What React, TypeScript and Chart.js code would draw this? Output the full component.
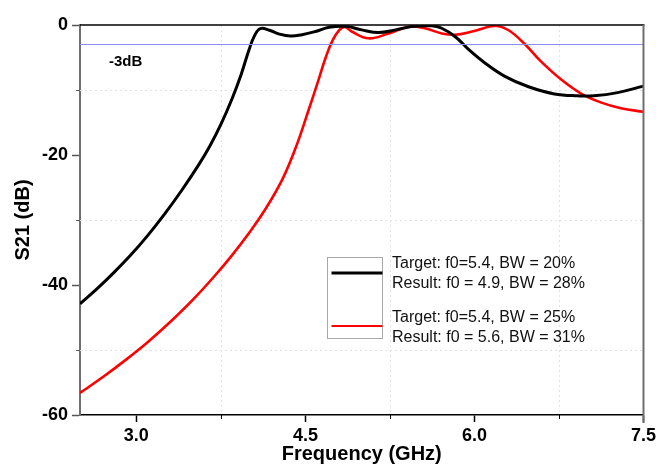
import React, { useEffect, useRef } from "react";
import { Chart, registerables } from "chart.js";

Chart.register(...registerables);

// ---- data ----
const blackFreq = [2.5, 2.65, 2.8, 2.95, 3.1, 3.25, 3.4, 3.55, 3.65, 3.75, 3.85, 3.93, 4.0, 4.05, 4.1, 4.18, 4.27, 4.37, 4.47, 4.59, 4.71, 4.86, 5.0, 5.15, 5.3, 5.44, 5.62, 5.71, 5.83, 5.95, 6.09, 6.27, 6.48, 6.71, 6.92, 7.06, 7.27, 7.5];
const blackS21 = [-42.9, -40.6, -38.1, -35.4, -32.4, -29.1, -25.5, -21.6, -18.7, -15.3, -11.3, -7.6, -3.8, -1.6, -0.55, -0.8, -1.4, -1.7, -1.5, -1.0, -0.35, -0.2, -0.75, -1.15, -0.75, -0.25, -0.12, -0.5, -1.8, -3.8, -5.8, -7.9, -9.5, -10.6, -10.9, -10.9, -10.4, -9.4];
const redFreq = [2.5, 2.7, 2.9, 3.1, 3.3, 3.5, 3.7, 3.85, 4.0, 4.15, 4.3, 4.42, 4.53, 4.61, 4.68, 4.74, 4.8, 4.85, 4.91, 5.06, 5.24, 5.42, 5.56, 5.71, 5.83, 5.98, 6.18, 6.3, 6.45, 6.59, 6.77, 6.95, 7.12, 7.3, 7.5];
const redS21 = [-56.6, -54.2, -51.6, -48.8, -45.7, -42.3, -38.5, -35.4, -32.0, -28.2, -23.6, -18.6, -13.0, -8.8, -5.0, -2.4, -0.8, -0.3, -1.0, -2.05, -1.3, -0.26, -0.5, -1.3, -1.5, -1.0, -0.15, -0.77, -3.0, -5.6, -8.4, -10.6, -11.9, -12.8, -13.35];
const refLevel = -3;
const refLabel = "-3dB";

const xMin = 2.5;
const xMax = 7.5;
const yMin = -60;
const yMax = 0;
const xTicks = [3.0, 4.5, 6.0, 7.5];
const xMinorTicks = [3.75, 5.25, 6.75];
const yTicks = [-60, -40, -20, 0];
const yMinorTicks = [-50, -30, -10];

const xTitle = "Frequency (GHz)";
const yTitle = "S21 (dB)";
const legendBlack = ["Target: f0=5.4, BW = 20%", "Result: f0 = 4.9, BW = 28%"];
const legendRed = ["Target: f0=5.4, BW = 25%", "Result: f0 = 5.6, BW = 31%"];

const FONT = "'Liberation Sans', Arial, sans-serif";

const framePlugin = {
  id: "frame",
  beforeDatasetsDraw(chart: any) {
    const { ctx, chartArea: a, scales } = chart;
    const xs = scales.x;
    const ys = scales.y;
    ctx.save();
    ctx.strokeStyle = "#e2e2e2";
    ctx.lineWidth = 1;
    ctx.setLineDash([2, 3]);
    xMinorTicks.forEach((v) => {
      const px = Math.round(xs.getPixelForValue(v)) + 0.5;
      ctx.beginPath();
      ctx.moveTo(px, a.top);
      ctx.lineTo(px, a.bottom);
      ctx.stroke();
    });
    yMinorTicks.forEach((v) => {
      const py = Math.round(ys.getPixelForValue(v)) + 0.5;
      ctx.beginPath();
      ctx.moveTo(a.left, py);
      ctx.lineTo(a.right, py);
      ctx.stroke();
    });
    ctx.restore();
  },
  afterDatasetsDraw(chart: any) {
    const { ctx, chartArea: a, scales } = chart;
    const xs = scales.x;
    const ys = scales.y;
    ctx.save();
    // top frame
    ctx.strokeStyle = "#000";
    ctx.lineWidth = 1.5;
    ctx.beginPath();
    ctx.moveTo(a.left, a.top);
    ctx.lineTo(a.right + 1, a.top);
    ctx.stroke();
    // right frame
    ctx.strokeStyle = "#6e6e6e";
    ctx.lineWidth = 2;
    ctx.beginPath();
    ctx.moveTo(a.right, a.top);
    ctx.lineTo(a.right, a.bottom + 8);
    ctx.stroke();
    // minor ticks
    ctx.strokeStyle = "#000";
    ctx.lineWidth = 1;
    xMinorTicks.forEach((v) => {
      const px = Math.round(xs.getPixelForValue(v)) + 0.5;
      ctx.beginPath();
      ctx.moveTo(px, a.bottom);
      ctx.lineTo(px, a.bottom + 4);
      ctx.stroke();
    });
    ctx.strokeStyle = "#555";
    yMinorTicks.forEach((v) => {
      const py = Math.round(ys.getPixelForValue(v)) + 0.5;
      ctx.beginPath();
      ctx.moveTo(a.left - 4, py);
      ctx.lineTo(a.left, py);
      ctx.stroke();
    });
    // -3dB label
    ctx.fillStyle = "#000";
    ctx.font = `bold 15px ${FONT}`;
    ctx.textAlign = "left";
    ctx.textBaseline = "middle";
    ctx.fillText(refLabel, a.left + 29, a.top + 37);
    // legend
    const bx = 327.5, by = 257.5, bw = 55, bh = 81;
    ctx.strokeStyle = "#a8a8a8";
    ctx.lineWidth = 1;
    ctx.strokeRect(bx, by, bw, bh);
    ctx.strokeStyle = "#000";
    ctx.lineWidth = 3;
    ctx.beginPath();
    ctx.moveTo(bx + 4, 273);
    ctx.lineTo(bx + bw, 273);
    ctx.stroke();
    ctx.strokeStyle = "#ff0000";
    ctx.lineWidth = 2;
    ctx.beginPath();
    ctx.moveTo(bx + 4, 326);
    ctx.lineTo(bx + bw, 326);
    ctx.stroke();
    ctx.fillStyle = "#111";
    ctx.font = `16px ${FONT}`;
    ctx.fillText(legendBlack[0], 392, 264);
    ctx.fillText(legendBlack[1], 392, 284);
    ctx.fillText(legendRed[0], 392, 318);
    ctx.fillText(legendRed[1], 392, 338);
    ctx.restore();
  },
};

export default function App() {
  const ref = useRef<HTMLCanvasElement | null>(null);

  useEffect(() => {
    document.body.style.margin = "0";
    const canvas = ref.current;
    if (!canvas) return;
    const chart = new Chart(canvas, {
      type: "line",
      data: {
        datasets: [
          {
            label: refLabel,
            data: [
              { x: xMin, y: refLevel },
              { x: xMax, y: refLevel },
            ],
            borderColor: "#8a8ef0",
            borderWidth: 1,
            pointRadius: 0,
            tension: 0,
          },
          {
            label: "black",
            data: blackFreq.map((f, i) => ({ x: f, y: blackS21[i] })),
            borderColor: "#000000",
            borderWidth: 3,
            pointRadius: 0,
            tension: 0.4,
          },
          {
            label: "red",
            data: redFreq.map((f, i) => ({ x: f, y: redS21[i] })),
            borderColor: "#ff0000",
            borderWidth: 2.6,
            pointRadius: 0,
            tension: 0.4,
          },
        ],
      },
      options: {
        responsive: false,
        animation: false,
        events: [],
        layout: { padding: { top: 25, right: 13, left: 0, bottom: 0 } },
        plugins: { legend: { display: false }, tooltip: { enabled: false } },
        scales: {
          x: {
            type: "linear",
            min: xMin,
            max: xMax,
            afterBuildTicks: (s: any) => {
              s.ticks = xTicks.map((v) => ({ value: v }));
            },
            afterFit: (s: any) => {
              s.height = 59;
            },
            grid: {
              drawOnChartArea: false,
              drawTicks: true,
              tickLength: 7,
              tickColor: "#000",
              tickWidth: 1.5,
            },
            border: { display: true, color: "#000", width: 1.5 },
            ticks: {
              color: "#000",
              padding: 3,
              maxRotation: 0,
              autoSkip: false,
              font: { family: FONT, size: 18, weight: "bold" },
              callback: (v: any) => Number(v).toFixed(1),
            },
            title: {
              display: true,
              text: xTitle,
              color: "#000",
              padding: { top: 0, bottom: 8 },
              font: { family: FONT, size: 20, weight: "bold" },
            },
          },
          y: {
            type: "linear",
            min: yMin,
            max: yMax,
            afterBuildTicks: (s: any) => {
              s.ticks = yTicks.map((v) => ({ value: v }));
            },
            afterFit: (s: any) => {
              s.width = 80;
            },
            grid: {
              drawOnChartArea: false,
              drawTicks: true,
              tickLength: 8,
              tickColor: "#555",
              tickWidth: 1.5,
            },
            border: { display: true, color: "#6e6e6e", width: 2 },
            ticks: {
              color: "#000",
              padding: 4,
              autoSkip: false,
              font: { family: FONT, size: 18, weight: "bold" },
              callback: (v: any) => String(v),
            },
            title: {
              display: true,
              text: yTitle,
              color: "#000",
              padding: { top: 11, bottom: 0 },
              font: { family: FONT, size: 20, weight: "bold" },
            },
          },
        },
      },
      plugins: [framePlugin],
    } as any);
    return () => chart.destroy();
  }, []);

  return (
    <div style={{ width: 659, height: 474 }}>
      <canvas ref={ref} width={659} height={474} style={{ display: "block" }} />
    </div>
  );
}
